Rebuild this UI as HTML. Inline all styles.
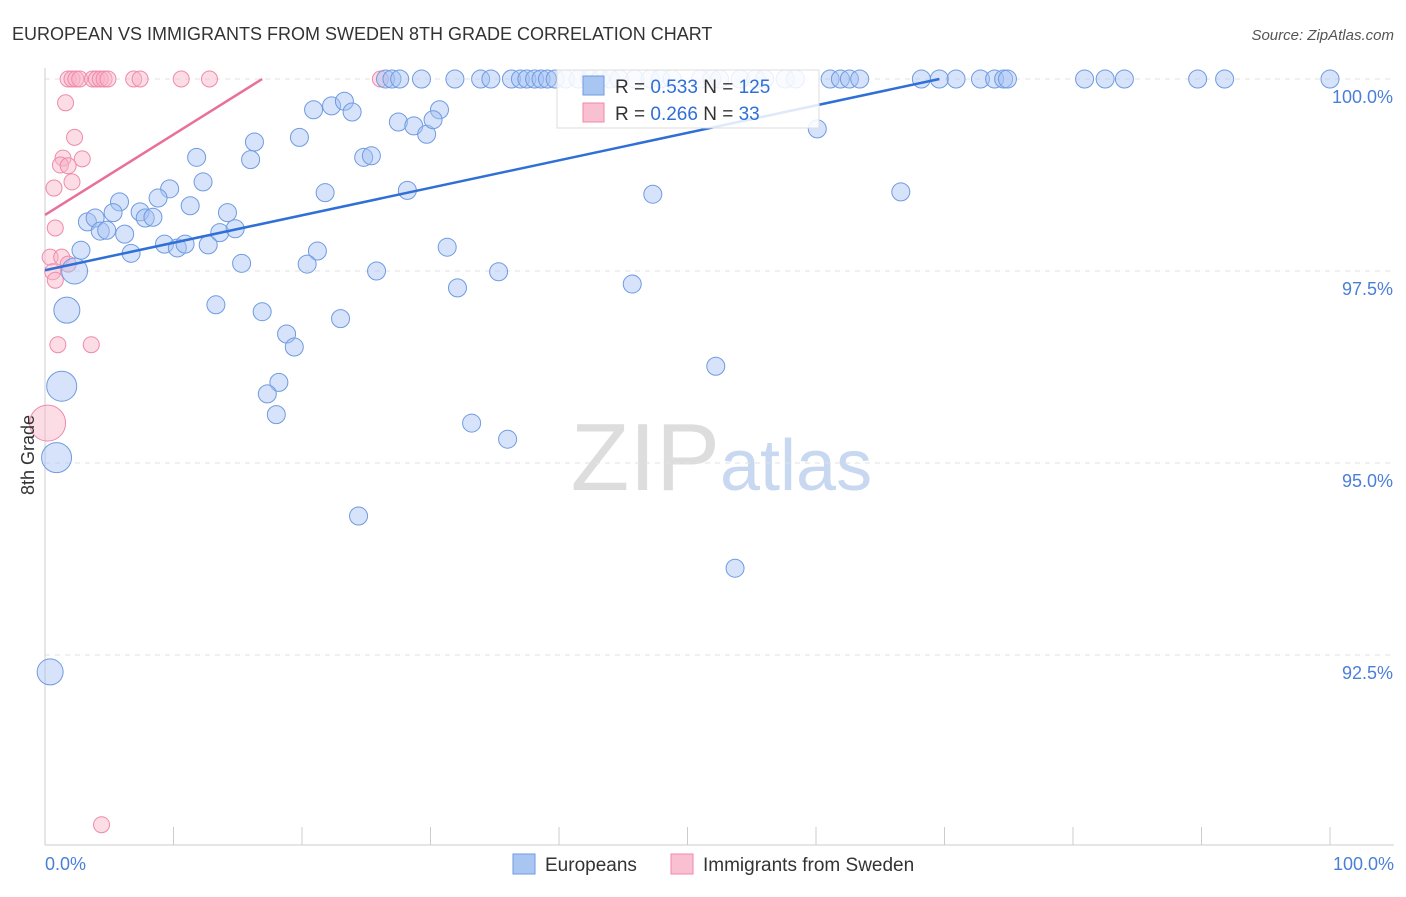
<!DOCTYPE html>
<html><head><meta charset="utf-8"><style>
body{margin:0;background:#fff;font-family:"Liberation Sans",sans-serif;}
svg text{font-family:"Liberation Sans",sans-serif;}
</style></head><body>
<svg id="chart" width="1406" height="892" xmlns="http://www.w3.org/2000/svg">
<text x="12" y="40" font-size="18" fill="#333">EUROPEAN VS IMMIGRANTS FROM SWEDEN 8TH GRADE CORRELATION CHART</text>
<text x="1394" y="40" font-size="15" fill="#555" text-anchor="end" font-style="italic">Source: ZipAtlas.com</text>
<text x="720" y="490" font-size="96" text-anchor="end" fill="#ddd" font-family="Liberation Serif">ZIP</text>
<text x="720" y="490" font-size="72" fill="#c8d8f0">atlas</text>
<g id="grid"></g>
<g id="axes"></g>
<g id="pink"></g>
<g id="blue"></g>
<g id="lines"></g>
<text transform="translate(34,455) rotate(-90)" font-size="18" fill="#333" text-anchor="middle">8th Grade</text>
<text x="45" y="870" font-size="18" fill="#4a7fd8">0.0%</text>
<text x="1394" y="870" font-size="18" fill="#4a7fd8" text-anchor="end">100.0%</text>
<g>
<rect x="557" y="70" width="262" height="58" fill="#fff" fill-opacity="0.85" stroke="#ddd"/>
<rect x="583" y="76" width="21" height="19" fill="#a9c6f2" stroke="#6f9be0"/>
<text x="615" y="93" font-size="19" fill="#333">R = <tspan fill="#2f6fd6">0.533</tspan>   N = <tspan fill="#2f6fd6">125</tspan></text>
<rect x="583" y="103" width="21" height="19" fill="#f8c0d0" stroke="#f08aaa"/>
<text x="615" y="120" font-size="19" fill="#333">R = <tspan fill="#2f6fd6">0.266</tspan>   N = <tspan fill="#2f6fd6"> 33</tspan></text>
</g>
<g>
<rect x="513" y="854" width="22" height="20" fill="#a9c6f2" stroke="#6f9be0"/>
<text x="545" y="871" font-size="19" fill="#333">Europeans</text></g>
<g>
<rect x="671" y="854" width="22" height="20" fill="#f8c0d0" stroke="#f08aaa"/>
<text x="703" y="871" font-size="19" fill="#333">Immigrants from Sweden</text></g>
</svg>
<script>
const yTicks=[100,97.5,95,92.5];
const yTickLabels=["100.0%","97.5%","95.0%","92.5%"];
const xTicks=[0,10,20,30,40,50,60,70,80,90,100];
const blueTopX=[26.5,27.0,27.6,29.3,31.9,33.9,34.7,36.3,37.0,37.5,38.1,38.6,39.1,39.7,40.5,41.5,42.4,43.2,44.0,44.7,45.9,47.1,47.9,48.8,51.0,51.9,52.5,54.1,55.3,56.0,57.6,58.4,61.1,61.9,62.6,63.4,68.2,69.6,70.9,72.8,73.9,74.6,74.9,80.9,82.5,84.0,89.7,91.8,100];
const blueX=[20.9,22.3,23.3,23.9,30.7,27.5,28.7,29.7,30.2,60.1,19.8,16.3,11.8,16.0,24.8,25.4,12.3,9.7,8.8,5.8,5.3,3.3,3.9,7.4,7.8,8.4,11.3,14.2,4.3,4.8,6.2,13.6,14.8,2.8,6.7,9.3,10.3,10.9,12.7,21.2,21.8,28.2,47.3,66.6,31.3,15.3,20.4,25.8,35.3,2.3,32.1,45.7,1.7,13.3,16.9,23.0,18.8,19.4,52.2,1.3,18.2,17.3,18.0,33.2,36.0,0.9,24.4,53.7,0.4];
const blueY=[99.60,99.65,99.71,99.57,99.60,99.44,99.39,99.28,99.47,99.35,99.24,99.18,98.98,98.95,98.98,99.00,98.66,98.57,98.45,98.40,98.26,98.14,98.19,98.27,98.19,98.20,98.35,98.26,98.02,98.03,97.98,98.00,98.05,97.77,97.73,97.85,97.80,97.85,97.84,97.76,98.52,98.55,98.50,98.53,97.81,97.60,97.59,97.50,97.49,97.50,97.28,97.33,96.99,97.06,96.97,96.88,96.68,96.51,96.26,96.00,96.05,95.90,95.63,95.52,95.31,95.07,94.31,93.63,92.28];
const blueBig={49:13,52:13,59:15,65:15,68:13};
const pinkTopX=[1.8,2.1,2.4,2.7,3.7,4.0,4.3,4.6,4.9,6.9,7.4,10.6,12.8,26.1];
const pinkX=[1.6,2.3,1.4,2.9,1.2,1.8,2.1,0.7,0.8,0.4,1.3,1.8,0.6,0.8,1.0,3.6,0.2,4.4];
const pinkY=[99.69,99.24,98.97,98.96,98.88,98.87,98.66,98.58,98.06,97.68,97.68,97.59,97.49,97.38,96.54,96.54,95.52,90.29];
const pinkBig={16:18};
const blueTrend=[[0,97.51],[69.6,100]];
const pinkTrend=[[0,98.23],[16.9,100]];
const NS="http://www.w3.org/2000/svg";
const X=v=>45+v*12.85, Y=v=>79+(100-v)*76.8;
function mk(t,a,p){const e=document.createElementNS(NS,t);for(const k in a)e.setAttribute(k,a[k]);p.appendChild(e);return e;}
const grid=document.getElementById('grid'),axes=document.getElementById('axes');
yTicks.forEach((t,i)=>{
 const l=mk('line',{x1:45,x2:1394,y1:Y(t),y2:Y(t),stroke:'#e2e2e2','stroke-dasharray':'5,5'},grid);
 
 
 const tx=mk('text',{x:1393,y:Y(t)+24,'font-size':18,fill:'#4a7fd8','text-anchor':'end'},grid);
 tx.textContent=yTickLabels[i];
 
 
});
const ax=mk('line',{x1:45,x2:1394,y1:845,y2:845,stroke:'#ccc'},axes);


const ay=mk('line',{x1:45,x2:45,y1:68,y2:845,stroke:'#ccc'},axes);


xTicks.forEach(t=>{const l=mk('line',{x1:X(t),x2:X(t),y1:827,y2:845,stroke:'#ccc'},axes);
 
 });
function dot(g,x,y,r,fill,stroke,name){const c=mk('circle',{cx:X(x),cy:Y(y),r:r,fill:fill,stroke:stroke,'stroke-width':1},g);
 
 }
const pg=document.getElementById('pink'),bg=document.getElementById('blue');
pinkTopX.forEach(x=>dot(pg,x,100,8,'rgba(248,180,200,0.45)','#f08aaa','immigrants-point'));
pinkX.forEach((x,i)=>dot(pg,x,pinkY[i],pinkBig[i]||8,'rgba(248,180,200,0.45)','#f08aaa','immigrants-point'));
blueTopX.forEach(x=>dot(bg,x,100,9,'rgba(164,194,244,0.45)','#6f9be0','europeans-point'));
blueX.forEach((x,i)=>dot(bg,x,blueY[i],blueBig[i]||9,'rgba(164,194,244,0.45)','#6f9be0','europeans-point'));
const lg=document.getElementById('lines');
const bl=mk('line',{x1:X(blueTrend[0][0]),y1:Y(blueTrend[0][1]),x2:X(blueTrend[1][0]),y2:Y(blueTrend[1][1]),stroke:'#2f6fd6','stroke-width':2.5},lg);


const pl=mk('line',{x1:X(pinkTrend[0][0]),y1:Y(pinkTrend[0][1]),x2:X(pinkTrend[1][0]),y2:Y(pinkTrend[1][1]),stroke:'#e8709a','stroke-width':2.5},lg);


</script>
</body></html>
